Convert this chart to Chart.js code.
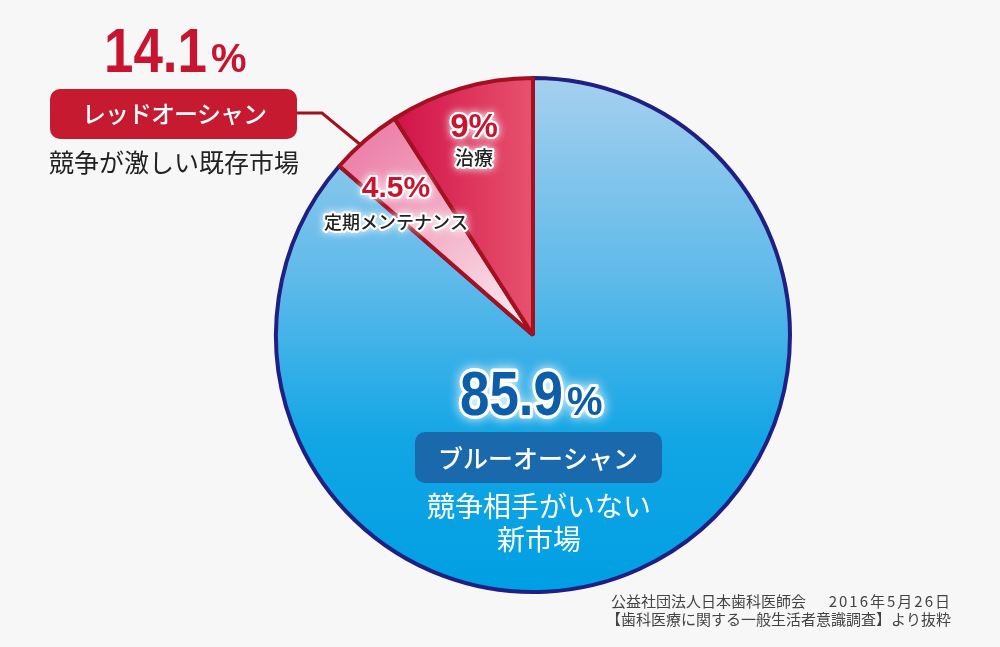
<!DOCTYPE html>
<html>
<head>
<meta charset="utf-8">
<script src="https://cdn.jsdelivr.net/npm/chart.js@4/dist/chart.umd.min.js"></script>
<style>
  body { margin: 0; background: #f7f7f8; }
  canvas { display: block; }
</style>
</head>
<body>
<canvas id="oceanGrafico" width="1000" height="647"></canvas>
<script>
  // dados (%)
  const categorias = ["ブルーオーシャン", "定期メンテナンス", "治療"];
  const valores = [85.9, 4.5, 9.0];
  const bordas = ["#1f1f84", "#a3101f", "#a3101f"];

  const JP = '"Noto Sans CJK JP", "Noto Sans", sans-serif';
  const NUM = '"Liberation Sans", Arial, sans-serif';

  function preenchimento(context) {
    const chart = context.chart;
    const area = chart.chartArea;
    if (!area) return "#00a0e4";
    const c = chart.ctx;
    const cx = (area.left + area.right) / 2;
    const cy = (area.top + area.bottom) / 2;
    const i = context.dataIndex;
    if (i === 0) {
      const g = c.createLinearGradient(0, area.top, 0, area.bottom);
      g.addColorStop(0, "#a6d0ee");
      g.addColorStop(0.4, "#5db9ea");
      g.addColorStop(0.7, "#12a6e5");
      g.addColorStop(1, "#009fe3");
      return g;
    }
    if (i === 1) {
      const g = c.createRadialGradient(cx, cy, 0, cx, cy, cy - area.top);
      g.addColorStop(0, "#fbf0f4");
      g.addColorStop(0.5, "#f4b6cc");
      g.addColorStop(1, "#ec80a8");
      return g;
    }
    const g = c.createLinearGradient(cx - 145, 0, cx, 0);
    g.addColorStop(0, "#cf0f47");
    g.addColorStop(1, "#e8526d");
    return g;
  }

  function textoGlow(c, txt, x, y, font, cor, glow, largura) {
    c.save();
    c.font = font;
    c.textAlign = "center";
    c.textBaseline = "middle";
    c.lineJoin = "round";
    c.shadowColor = glow;
    c.shadowBlur = 8;
    c.strokeStyle = "#ffffff";
    c.lineWidth = largura;
    c.strokeText(txt, x, y);
    c.shadowBlur = 0;
    c.strokeText(txt, x, y);
    c.fillStyle = cor;
    c.fillText(txt, x, y);
    c.restore();
  }

  // número grande: dígitos um pouco condensados + "%" menor
  function numeroGrande(c, num, x, y, cor, contorno) {
    c.save();
    c.textBaseline = "alphabetic";
    c.textAlign = "left";
    c.lineJoin = "round";
    c.font = "bold 63px " + NUM;
    const w = c.measureText(num).width * 0.84;
    const passos = contorno ? [true, false] : [false];
    passos.forEach((traco) => {
      c.save();
      c.translate(x, y);
      c.scale(0.84, 1);
      c.font = "bold 63px " + NUM;
      if (traco) {
        c.shadowColor = "rgba(255,255,255,0.95)";
        c.shadowBlur = 12;
        c.strokeStyle = "#ffffff";
        c.lineWidth = 7;
        c.strokeText(num, 0, 0);
      } else {
        c.fillStyle = cor;
        c.fillText(num, 0, 0);
      }
      c.restore();
      c.font = "bold 40px " + NUM;
      if (traco) {
        c.shadowColor = "rgba(255,255,255,0.95)";
        c.shadowBlur = 12;
        c.strokeStyle = "#ffffff";
        c.lineWidth = 6;
        c.strokeText("%", x + w + 4, y);
        c.shadowBlur = 0;
      } else {
        c.fillStyle = cor;
        c.fillText("%", x + w + 4, y);
      }
    });
    c.restore();
  }

  function caixa(c, x, y, w, h, r, cor) {
    c.save();
    c.fillStyle = cor;
    c.beginPath();
    c.roundRect(x, y, w, h, r);
    c.fill();
    c.restore();
  }

  const rotulos = {
    id: "rotulos",
    beforeDatasetsDraw(chart) {
      const c = chart.ctx;
      // linha de chamada da caixa vermelha
      c.save();
      c.strokeStyle = "#a3101f";
      c.lineWidth = 3;
      c.beginPath();
      c.moveTo(296, 113);
      c.lineTo(322, 113);
      c.lineTo(362, 146);
      c.stroke();
      c.restore();
    },
    afterDraw(chart) {
      const c = chart.ctx;

      numeroGrande(c, "14.1", 104, 72, "#c8142f", false);

      caixa(c, 50, 89, 247, 50, 10, "#c51a2f");
      c.save();
      c.fillStyle = "#ffffff";
      c.font = "500 24px " + JP;
      c.letterSpacing = "-1px";
      c.textAlign = "center";
      c.textBaseline = "middle";
      c.fillText("レッドオーシャン", 174, 114);
      c.letterSpacing = "0px";
      c.fillStyle = "#222222";
      c.font = "25px " + JP;
      c.fillText("競争が激しい既存市場", 174, 162);
      c.restore();

      // fatias vermelhas
      textoGlow(c, "9%", 474, 128, "bold 33px " + NUM, "#c8142f", "#ffffff", 4);
      textoGlow(c, "治療", 474, 158, "500 19px " + JP, "#222222", "#ffffff", 4);
      textoGlow(c, "4.5%", 396, 189, "bold 30px " + NUM, "#c8142f", "#ffffff", 4);
      textoGlow(c, "定期メンテナンス", 396, 222, "500 18px " + JP, "#222222", "#ffffff", 4);

      numeroGrande(c, "85.9", 460, 415, "#0c5ea9", true);

      caixa(c, 415, 432, 247, 51, 10, "#1a69ad");
      c.save();
      c.fillStyle = "#ffffff";
      c.font = "500 25px " + JP;
      c.textAlign = "center";
      c.textBaseline = "middle";
      c.fillText("ブルーオーシャン", 538, 458);
      c.font = "28px " + JP;
      c.fillText("競争相手がいない", 539, 506);
      c.fillText("新市場", 539, 539);
      c.restore();

      // fonte
      c.save();
      c.fillStyle = "#444444";
      c.font = "15px " + JP;
      c.textAlign = "left";
      c.textBaseline = "middle";
      c.fillText("公益社団法人日本歯科医師会", 611, 601);
      c.fillText("【歯科医療に関する一般生活者意識調査】より抜粋", 606, 619);
      c.textAlign = "right";
      c.letterSpacing = "2px";
      c.fillText("2016年5月26日", 952, 601);
      c.restore();
    },
  };

  const ctx = document.getElementById("oceanGrafico");

  var oceanGrafico = new Chart(ctx, {
    type: "pie",
    data: {
      labels: categorias,
      datasets: [
        {
          data: valores,
          backgroundColor: preenchimento,
          borderColor: bordas,
          borderWidth: 4,
          hoverOffset: 0,
        },
      ],
    },
    options: {
      responsive: false,
      animation: false,
      devicePixelRatio: 1,
      layout: {
        padding: { left: 274, right: 208, top: 76, bottom: 53 },
      },
      plugins: {
        legend: { display: false },
        tooltip: { enabled: false },
      },
    },
    plugins: [rotulos],
  });
</script>
</body>
</html>
